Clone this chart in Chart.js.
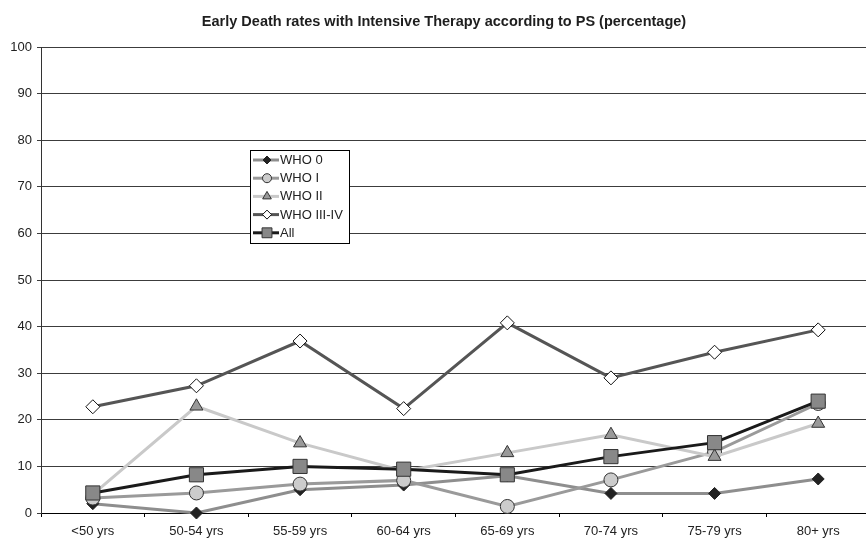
<!DOCTYPE html>
<html><head><meta charset="utf-8">
<script src="https://cdn.jsdelivr.net/npm/chart.js@4"></script>
<style>html,body{margin:0;padding:0;background:#fff;overflow:hidden}#wrap{width:866px;height:538px;overflow:hidden}canvas{display:block}</style>
</head><body><div id="wrap"><canvas id="c" width="870" height="538"></canvas></div>
<script>
const titleText = 'Early Death rates with Intensive Therapy according to PS (percentage)';
const categories = ['<50 yrs','50-54 yrs','55-59 yrs','60-64 yrs','65-69 yrs','70-74 yrs','75-79 yrs','80+ yrs'];
const seriesNames = ['WHO 0','WHO I','WHO II','WHO III-IV','All'];
const who0 = [2, 0, 5, 6, 8, 4.2, 4.2, 7.3];
const who1 = [3.2, 4.3, 6.2, 7, 1.4, 7.1, 13.1, 23.5];
const who2 = [4, 22.9, 15, 9, 12.9, 16.8, 12.1, 19.2];
const who34 = [22.8, 27.3, 36.9, 22.4, 40.8, 29, 34.5, 39.3];
const allPts = [4.3, 8.2, 10, 9.4, 8.2, 12.1, 15.1, 24];
const yTicks = [0,10,20,30,40,50,60,70,80,90,100];

const FONT = '"Liberation Sans", Arial, sans-serif';

const styles = [
  {line:'#8e8e8e', fill:'#222222', border:'#222222', style:'rectRot', r:6, lr:4},
  {line:'#9a9a9a', fill:'#cccccc', border:'#333333', style:'circle', r:7, lr:4.5},
  {line:'#c9c9c9', fill:'#999999', border:'#333333', style:'triangle', r:7.5, lr:5},
  {line:'#555555', fill:'#ffffff', border:'#111111', style:'rectRot', r:7, lr:4.5},
  {line:'#1a1a1a', fill:'#888888', border:'#333333', style:'rect', r:10, lr:7}
];
const seriesData = [who0, who1, who2, who34, allPts];

function drawMarker(ctx, style, r, x, y) {
  ctx.beginPath();
  if (style === 'circle') {
    ctx.arc(x, y, r, 0, Math.PI * 2);
  } else if (style === 'rect') {
    const s = Math.SQRT1_2 * r;
    ctx.rect(x - s, y - s, 2 * s, 2 * s);
  } else if (style === 'rectRot') {
    ctx.moveTo(x, y - r); ctx.lineTo(x + r, y); ctx.lineTo(x, y + r); ctx.lineTo(x - r, y);
  } else if (style === 'triangle') {
    const a = 2 * Math.PI / 3;
    ctx.moveTo(x, y - r);
    ctx.lineTo(x + Math.sin(a) * r, y - Math.cos(a) * r);
    ctx.lineTo(x + Math.sin(2 * a) * r, y - Math.cos(2 * a) * r);
  }
  ctx.closePath();
  ctx.fill();
  ctx.stroke();
}

const titlePlugin = {
  id: 'customTitle',
  afterDraw(chart) {
    const ctx = chart.ctx;
    ctx.save();
    ctx.font = 'bold 14.5px ' + FONT;
    ctx.fillStyle = '#1e1e1e';
    ctx.textAlign = 'center';
    ctx.textBaseline = 'alphabetic';
    ctx.fillText(titleText, 444, 25.5);
    ctx.restore();
  }
};

const legendPlugin = {
  id: 'boxLegend',
  afterDraw(chart) {
    const ctx = chart.ctx;
    const x0 = 250, y0 = 150, w = 99, h = 93;
    ctx.save();
    ctx.fillStyle = '#fff';
    ctx.fillRect(x0 + 0.5, y0 + 0.5, w, h);
    ctx.strokeStyle = '#000';
    ctx.lineWidth = 1;
    ctx.strokeRect(x0 + 0.5, y0 + 0.5, w, h);
    ctx.font = '13px ' + FONT;
    ctx.textBaseline = 'middle';
    ctx.textAlign = 'left';
    seriesNames.forEach((name, i) => {
      const st = styles[i];
      const cy = 160 + i * 18.2;
      ctx.strokeStyle = st.line;
      ctx.lineWidth = 3;
      ctx.beginPath(); ctx.moveTo(253, cy); ctx.lineTo(279, cy); ctx.stroke();
      ctx.fillStyle = st.fill;
      ctx.strokeStyle = st.border;
      ctx.lineWidth = 1;
      drawMarker(ctx, st.style, st.lr, 267, cy);
      ctx.fillStyle = '#222';
      ctx.fillText(name, 280, cy + 0.5);
    });
    ctx.restore();
  }
};

const datasets = seriesNames.map((name, i) => ({
  label: name,
  data: seriesData[i],
  borderColor: styles[i].line,
  borderWidth: 3,
  pointStyle: styles[i].style,
  pointRadius: styles[i].r,
  pointHoverRadius: styles[i].r,
  pointBackgroundColor: styles[i].fill,
  pointBorderColor: styles[i].border,
  pointBorderWidth: 1,
  tension: 0,
  fill: false,
  clip: false,
  order: seriesNames.length - i
}));

new Chart(document.getElementById('c'), {
  type: 'line',
  data: { labels: categories, datasets },
  plugins: [titlePlugin, legendPlugin],
  options: {
    responsive: false,
    animation: false,
    devicePixelRatio: 1,
    layout: { autoPadding: false, padding: { top: 47, right: 0, bottom: 0, left: 0 } },
    plugins: { legend: { display: false }, title: { display: false }, tooltip: { enabled: false } },
    scales: {
      x: {
        type: 'category',
        offset: true,
        grid: { display: true, drawOnChartArea: false, drawTicks: true, tickLength: 4, offset: true, color: '#000' },
        border: { display: true, color: '#000', width: 1 },
        ticks: { padding: 7, color: '#222', font: { family: FONT, size: 13 }, maxRotation: 0, autoSkip: false },
        afterFit(s) { s.height = 25; s.paddingLeft = 0; s.paddingRight = 0; }
      },
      y: {
        min: 0, max: 100,
        afterBuildTicks(s) { s.ticks = yTicks.map(v => ({ value: v })); },
        grid: { color: '#3c3c3c', lineWidth: 1, drawTicks: true, tickLength: 4 },
        border: { display: true, color: '#333', width: 1 },
        ticks: { padding: 5, color: '#222', font: { family: FONT, size: 13 } },
        afterFit(s) { s.width = 41; s.paddingTop = 0; s.paddingBottom = 0; }
      }
    }
  }
});
</script>
</body></html>
